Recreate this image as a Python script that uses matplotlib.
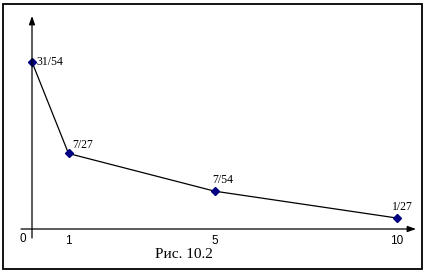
import matplotlib
matplotlib.use("Agg")
import matplotlib.pyplot as plt
from matplotlib.patches import Rectangle

x = [0, 1, 5, 10]
y = [31 / 54, 7 / 27, 7 / 54, 1 / 27]
point_labels = ["31/54", "7/27", "7/54", "1/27"]
tick_labels = ["1", "5", "10"]
tick_pos = [1, 5, 10]
caption = "Рис. 10.2"

W, H = 428, 276
fig = plt.figure(figsize=(W / 100, H / 100), dpi=100)
ax = fig.add_axes([0, 0, 1, 1])

# pixel mapping: x=0 at px 32, 36.5 px per unit; y=0 at px 228.8, 290.5 px per unit
sx, ox = 36.5, 32
sy, oy = 290.5, 228.8
ax.set_xlim(-ox / sx, (W - ox) / sx)
ax.set_ylim((oy - H) / sy, oy / sy)
ax.axis("off")

def px(u, v):
    return (u - ox) / sx, (oy - v) / sy

# frame
fig.patches.append(Rectangle((3.5 / W, 1 - 269 / H), 418.5 / W, 265.5 / H,
                             transform=fig.transFigure, fill=False,
                             edgecolor="black", lw=1.3))

# axes with arrows
arrow = dict(arrowstyle="-|>,head_length=0.5,head_width=0.18", color="black",
             lw=0.9, shrinkA=0, shrinkB=0)
ax.annotate("", xy=px(416, 229), xytext=px(21, 229), arrowprops=arrow)
ax.annotate("", xy=px(32, 16), xytext=px(32, 238), arrowprops=arrow)

ax.plot(x, y, color="black", lw=0.9)
ax.plot(x, y, ls="none", marker="D", ms=4.5, color="#000080")

sans = "Liberation Sans"
serif = "Liberation Serif"
offs = [(4, 0), (4, 5), (-2, 8), (-5, 8)]
for xi, yi, lab, (dx, dy) in zip(x, y, point_labels, offs):
    ax.annotate(lab, (xi, yi), xytext=(dx, dy), textcoords="offset pixels",
                fontsize=8.5, family=serif, ha="left",
                va="baseline" if dy > 0 else "center")

for t, lab in zip(tick_pos, tick_labels):
    ax.text(t, px(0, 240.5)[1], lab, fontsize=8.5, family=sans, ha="center", va="center")
ax.text(*px(23, 239), "0", fontsize=8.5, family=sans, ha="center", va="center")

ax.text(*px(184, 258), caption, fontsize=11, family=serif,
        ha="center", va="baseline")

fig.savefig("out.png", dpi=100)
